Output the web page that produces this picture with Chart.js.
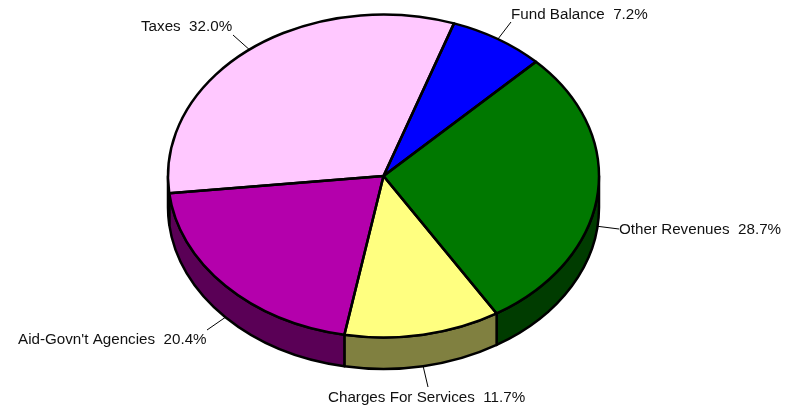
<!DOCTYPE html>
<html>
<head>
<meta charset="utf-8">
<style>
html,body{margin:0;padding:0;background:#fff}
canvas{display:block}
</style>
<script src="https://cdn.jsdelivr.net/npm/chart.js@4"></script>
</head>
<body>
<canvas id="c" width="793" height="409"></canvas>
<script>
const categories = ["Fund Balance", "Other Revenues", "Charges For Services", "Aid-Govn't Agencies", "Taxes"];
const shares = [7.2, 28.7, 11.7, 20.4, 32.0];
const topColors = ["#0000FF", "#007800", "#FFFF80", "#B400AC", "#FFC8FF"];
const sideColors = ["#000080", "#003C00", "#808040", "#5A0056", "#806480"];

// Label placement: text left edge, baseline, and leader-line outer end.
const labelLeft = [511, 619, 328, 18, 141];
const labelBase = [19, 234, 402, 344, 31];
const leaderEnd = [[511, 22], [619, 229], [428, 387], [207, 330], [233, 35]];

const X_STRETCH = 215.5 / 161.5; // the pie is drawn as an ellipse
const DEPTH = 31.5;              // height of the extruded wall
const OUTLINE = 2.5;

const pie3d = {
  id: 'pie3d',
  beforeDatasetsDraw(chart) {
    const ctx = chart.ctx;
    const arcs = chart.getDatasetMeta(0).data;
    ctx.save();
    ctx.lineWidth = OUTLINE;
    ctx.strokeStyle = '#000';
    ctx.lineJoin = 'round';
    arcs.forEach((arc, i) => {
      const a = Math.max(arc.startAngle, 0);
      const b = Math.min(arc.endAngle, Math.PI);
      if (a >= b) return;
      const rx = arc.outerRadius * X_STRETCH, ry = arc.outerRadius;
      ctx.beginPath();
      ctx.ellipse(arc.x, arc.y + DEPTH, rx, ry, 0, a, b, false);
      ctx.ellipse(arc.x, arc.y, rx, ry, 0, b, a, true);
      ctx.closePath();
      ctx.fillStyle = sideColors[i];
      ctx.fill();
      ctx.stroke();
    });
    ctx.restore();
    // Let the library paint its slices through an elliptical transform.
    const first = arcs[0];
    ctx.save();
    ctx.translate(first.x, first.y);
    ctx.scale(X_STRETCH, 1);
    ctx.translate(-first.x, -first.y);
  },
  afterDatasetsDraw(chart) {
    const ctx = chart.ctx;
    ctx.restore();
    const arcs = chart.getDatasetMeta(0).data;
    ctx.save();
    ctx.strokeStyle = '#000';
    ctx.lineWidth = OUTLINE;
    ctx.lineJoin = 'round';
    arcs.forEach((arc) => {
      const rx = arc.outerRadius * X_STRETCH, ry = arc.outerRadius;
      ctx.beginPath();
      ctx.moveTo(arc.x, arc.y);
      ctx.ellipse(arc.x, arc.y, rx, ry, 0, arc.startAngle, arc.endAngle, false);
      ctx.closePath();
      ctx.stroke();
    });
    // Leader lines and labels
    ctx.font = '15.2px "Liberation Sans", Arial, sans-serif';
    ctx.textBaseline = 'alphabetic';
    ctx.textAlign = 'left';
    arcs.forEach((arc, i) => {
      const mid = (arc.startAngle + arc.endAngle) / 2;
      const rx = arc.outerRadius * X_STRETCH, ry = arc.outerRadius;
      const sy = Math.sin(mid);
      const px = arc.x + rx * Math.cos(mid);
      const py = arc.y + ry * sy + (sy > 0 ? DEPTH : 0);
      ctx.beginPath();
      ctx.lineWidth = 1;
      ctx.strokeStyle = '#000';
      ctx.moveTo(px, py);
      ctx.lineTo(leaderEnd[i][0], leaderEnd[i][1]);
      ctx.stroke();
      ctx.fillStyle = '#111';
      ctx.fillText(categories[i] + '  ' + shares[i].toFixed(1) + '%', labelLeft[i], labelBase[i]);
    });
    ctx.restore();
  }
};

new Chart(document.getElementById('c'), {
  type: 'pie',
  data: {
    labels: categories,
    datasets: [{
      data: shares,
      backgroundColor: topColors,
      borderWidth: 0,
      hoverOffset: 0,
      clip: false
    }]
  },
  options: {
    responsive: false,
    animation: false,
    events: [],
    rotation: 19.1,
    layout: { padding: { top: 14.5, bottom: 71.5, left: 0, right: 26 } },
    plugins: { legend: { display: false }, tooltip: { enabled: false }, title: { display: false } }
  },
  plugins: [pie3d]
});
</script>
</body>
</html>
